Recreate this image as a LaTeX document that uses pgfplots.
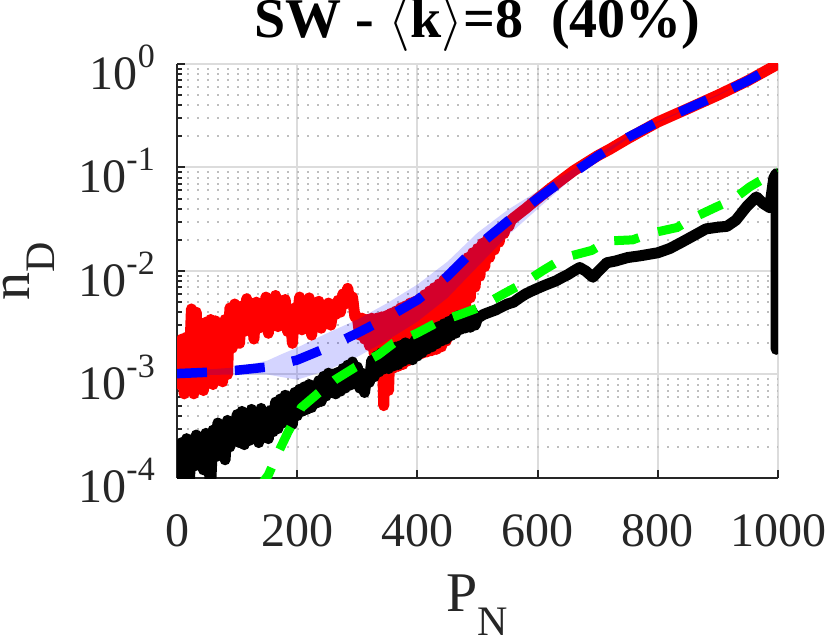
\RequirePackage{fix-cm}
\documentclass[border=0pt]{standalone}
\usepackage{fontspec}
\setmainfont{Liberation Serif}
\usepackage{pgfplots}
\pgfplotsset{compat=1.18}
\definecolor{axisgray}{HTML}{262626}
\definecolor{majgrid}{HTML}{DCDCDC}
\definecolor{mingrid}{HTML}{BEBEBE}
\definecolor{mred}{HTML}{FF0000}
\definecolor{mblue}{HTML}{0000FF}
\definecolor{mgreen}{HTML}{00FF00}
\newcommand{\tsup}[1]{\raisebox{22pt}{\fontsize{34}{34}\selectfont #1}}
\begin{document}
\begin{tikzpicture}
\path[use as bounding box] (0,0) rectangle (830pt,644pt);
\begin{axis}[
  at={(177pt,166pt)}, anchor=south west,
  scale only axis, width=601pt, height=414pt,
  xmin=0, xmax=1000, ymin=1e-4, ymax=1,
  ymode=log,
  axis x line*=bottom, axis y line*=left,
  axis line style={line width=2.5pt, color=axisgray, -},
  xtick={0,200,400,600,800,1000},
  xticklabels={0,200,400,600,800,1000},
  ytick={1e-4,1e-3,1e-2,1e-1,1},
  yticklabels={10\tsup{-4},10\tsup{-3},10\tsup{-2},10\tsup{-1},10\tsup{0}},
  minor ytick={2e-4,3e-4,4e-4,5e-4,6e-4,7e-4,8e-4,9e-4,
               2e-3,3e-3,4e-3,5e-3,6e-3,7e-3,8e-3,9e-3,
               2e-2,3e-2,4e-2,5e-2,6e-2,7e-2,8e-2,9e-2,
               2e-1,3e-1,4e-1,5e-1,6e-1,7e-1,8e-1,9e-1},
  tick align=inside,
  major tick length=8pt, minor tick length=5pt,
  tick style={line width=2pt, color=axisgray},
  xmajorgrids=true, ymajorgrids=true, yminorgrids=true,
  major grid style={line width=2pt, color=majgrid},
  minor grid style={line width=2pt, color=mingrid, dash pattern=on 2pt off 8pt},
  tick label style={font=\fontsize{48}{48}\selectfont, text=axisgray},
  xticklabel style={anchor=base, inner sep=0pt, yshift=-68pt},
  yticklabel style={anchor=east, inner sep=0pt, xshift=-22pt, yshift=-3pt},
  title={\fontsize{56}{56}\selectfont\bfseries SW - $\langle$k$\rangle$=8~~(40\%)},
  title style={at={(axis description cs:0.5,1.0487)}, anchor=base, inner sep=0pt},
  xlabel={\fontsize{56}{56}\selectfont P\raisebox{-24pt}{\fontsize{42}{42}\selectfont N}},
  xlabel style={at={(axis description cs:0.5,-0.322)}, anchor=base, inner sep=0pt, text=axisgray},
  ylabel={\fontsize{56}{56}\selectfont n\raisebox{-25pt}{\fontsize{42}{42}\selectfont D}},
  ylabel style={at={(axis description cs:-0.2462,0.5)}, anchor=base, rotate=0, inner sep=0pt, text=axisgray},
]
% red noisy series
\addplot[mred, line width=11pt, line join=round, line cap=round] coordinates {
(0,2.0e-3)(4,8e-4)(8,2.2e-3)(12,6.5e-4)(16,2.3e-3)(20,1.0e-3)(24,4.3e-3)(28,6.5e-4)
(32,4.0e-3)(36,1.2e-3)(40,3.0e-3)(44,7e-4)(48,3.2e-3)(52,1.4e-3)(56,3.4e-3)(60,8e-4)
(64,3.3e-3)(68,1.0e-3)(72,3.0e-3)(76,8.5e-4)(80,3.4e-3)(84,1.0e-3)(88,4.4e-3)(92,1.8e-3)
(96,4.8e-3)(100,2.2e-3)(104,2.0e-3)(108,4.6e-3)(112,2.6e-3)(116,5.4e-3)(120,3.0e-3)
(124,4.8e-3)(128,2.2e-3)(132,5.0e-3)(136,2.8e-3)(140,4.4e-3)(144,3.2e-3)(148,5.6e-3)
(152,2.5e-3)(156,4.6e-3)(160,3.6e-3)(164,5.8e-3)(168,2.9e-3)(172,4.9e-3)(176,3.3e-3)
(180,5.3e-3)(184,2.6e-3)(188,4.1e-3)(192,2.0e-3)(196,4.4e-3)(200,3.4e-3)(204,5.6e-3)
(208,2.7e-3)(212,4.7e-3)(216,3.1e-3)(220,5.5e-3)(224,2.4e-3)(228,4.3e-3)(232,3.5e-3)
(236,5.1e-3)(240,2.8e-3)(244,4.5e-3)(248,3.6e-3)(252,4.9e-3)(256,3.0e-3)(260,4.4e-3)
(264,3.8e-3)(268,5.2e-3)(272,4.0e-3)(276,6.0e-3)(280,4.8e-3)(284,6.8e-3)(288,5.0e-3)
(292,5.6e-3)(296,3.6e-3)
(300,3.6e-3)(304,2.4e-3)(308,3.5e-3)(312,2.2e-3)(316,3.4e-3)(320,1.9e-3)(324,3.5e-3)
(328,1.6e-3)(332,3.5e-3)(336,1.2e-3)(340,3.6e-3)(344,5.0e-4)(348,3.7e-3)(352,7.0e-4)
(356,3.9e-3)(360,1.15e-3)(364,4.1e-3)(368,1.2e-3)(372,4.4e-3)(376,1.25e-3)(380,4.6e-3)
(384,1.35e-3)(388,4.9e-3)(392,1.45e-3)(396,5.1e-3)(400,1.55e-3)(404,5.4e-3)(408,1.6e-3)
(412,5.9e-3)(416,1.65e-3)(420,6.4e-3)(424,1.7e-3)(428,6.9e-3)(432,1.75e-3)(436,7.5e-3)
(440,1.85e-3)(444,8.2e-3)(448,2.1e-3)(452,9.0e-3)(456,2.4e-3)(460,1.0e-2)(464,2.8e-3)
(468,1.1e-2)(472,3.3e-3)(476,1.2e-2)(480,4.3e-3)(484,1.35e-2)(488,5.5e-3)(492,1.5e-2)
(496,7.0e-3)(500,1.65e-2)(504,8.9e-3)(508,1.85e-2)(512,1.1e-2)(516,2.0e-2)(520,1.35e-2)
(524,2.2e-2)(528,1.6e-2)(532,2.4e-2)(536,1.9e-2)(540,2.6e-2)(544,2.3e-2)(548,2.85e-2)
(552,2.7e-2)(556,3.1e-2)(560,3.25e-2)
(580,4.0e-2)(600,5.0e-2)(620,6.2e-2)(640,7.6e-2)(660,9.3e-2)(680,0.11)(700,0.13)
(720,0.15)(750,0.19)(800,0.275)(850,0.37)(900,0.50)(950,0.69)(1000,1.0)
};
% shaded band
\addplot[draw=none, fill=mblue, fill opacity=0.17] coordinates {
(0,1.07e-3)(100,1.17e-3)(150,1.36e-3)(175,1.58e-3)(200,1.82e-3)(250,2.51e-3)(300,3.39e-3)
(350,4.9e-3)(400,7.4e-3)(450,1.23e-2)(500,2.34e-2)(550,3.89e-2)(600,5.9e-2)(650,8.9e-2)
(700,0.135)(750,0.20)(800,0.279)(900,0.507)(1000,1.0)
(1000,1.0)(900,0.495)(800,0.272)(750,0.19)(700,0.12)(650,7.2e-2)(600,3.98e-2)
(550,2.19e-2)(500,1.1e-2)(450,5.5e-3)(400,3.24e-3)(350,2.14e-3)(300,1.48e-3)
(250,1.1e-3)(200,8.9e-4)(150,1.0e-3)(100,1.0e-3)(0,9.8e-4)
} -- cycle;
% mean (blue dashed)
\addplot[mblue, line width=9.5pt, dash pattern=on 30pt off 28pt] coordinates {
(0,1.02e-3)(50,1.05e-3)(100,1.10e-3)(150,1.18e-3)(200,1.38e-3)(250,1.82e-3)(300,2.51e-3)
(350,3.55e-3)(400,5.25e-3)(450,8.9e-3)(500,1.74e-2)(550,3.02e-2)(600,5.0e-2)(650,8.1e-2)
(700,0.129)(750,0.195)(800,0.275)(850,0.372)(900,0.50)(950,0.69)(1000,1.0)
};
% black noisy series
\addplot[black, line width=11pt, line join=round, line cap=round] coordinates {
(0,1.5e-4)(4,0.8e-4)(8,2.2e-4)(12,1.2e-4)(16,2.4e-4)(20,0.85e-4)(24,2.0e-4)(28,1.3e-4)
(32,2.6e-4)(36,1.4e-4)(40,2.3e-4)(44,1.2e-4)(48,2.7e-4)(52,1.5e-4)(56,0.85e-4)(60,2.9e-4)
(64,1.6e-4)(68,3.4e-4)(72,1.8e-4)(76,3.1e-4)(80,1.5e-4)(84,3.6e-4)(88,2.0e-4)(92,3.3e-4)
(96,2.3e-4)(100,4.1e-4)(104,2.2e-4)(108,4.4e-4)(112,2.1e-4)(116,3.9e-4)(120,2.3e-4)
(124,4.6e-4)(128,2.5e-4)(132,4.3e-4)(136,2.2e-4)(140,4.7e-4)(144,2.6e-4)(148,4.0e-4)
(152,2.4e-4)(156,4.5e-4)(160,2.8e-4)(164,5.4e-4)(168,3.0e-4)(172,5.8e-4)(176,3.4e-4)
(180,6.3e-4)(184,3.6e-4)(188,5.9e-4)(192,3.3e-4)(196,6.7e-4)(200,4.0e-4)(204,7.2e-4)
(208,4.4e-4)(212,7.6e-4)(216,4.6e-4)(220,8.0e-4)(224,4.8e-4)(228,7.4e-4)(232,5.3e-4)
(236,8.7e-4)(240,5.5e-4)(244,9.6e-4)(248,6.2e-4)(252,1.03e-3)(256,6.7e-4)(260,1.01e-3)
(264,6.5e-4)(268,1.05e-3)(272,6.9e-4)(276,1.14e-3)(280,7.4e-4)(284,1.23e-3)(288,7.9e-4)
(292,1.32e-3)(296,8.4e-4)(300,1.18e-3)(304,7.4e-4)(308,1.03e-3)(312,6.7e-4)(316,9.9e-4)
(320,8.4e-4)(324,1.37e-3)(328,9.5e-4)(332,1.51e-3)(336,1.06e-3)(340,1.62e-3)(344,1.13e-3)
(348,1.68e-3)(352,1.14e-3)(356,1.75e-3)(360,1.21e-3)(364,1.84e-3)(368,1.25e-3)(372,1.90e-3)
(376,1.34e-3)(380,2.02e-3)(384,1.41e-3)(388,1.96e-3)(392,1.39e-3)(396,2.13e-3)(400,1.51e-3)
(404,2.24e-3)(408,1.63e-3)(412,2.46e-3)(416,1.76e-3)(420,2.63e-3)(424,1.85e-3)(428,2.8e-3)
(432,1.98e-3)(436,2.91e-3)(440,2.11e-3)(444,3.08e-3)(448,2.2e-3)(452,3.25e-3)(456,2.38e-3)
(460,3.47e-3)(464,2.51e-3)(468,3.7e-3)(472,2.73e-3)(476,3.8e-3)(480,2.82e-3)(484,3.9e-3)
(488,2.86e-3)(492,4.0e-3)(496,3.0e-3)(500,3.5e-3)(510,3.8e-3)(520,4.0e-3)(530,4.2e-3)
(540,4.5e-3)(550,4.8e-3)(560,5.0e-3)(570,5.5e-3)(580,6.0e-3)(590,6.4e-3)(600,6.8e-3)
(610,7.2e-3)(620,7.6e-3)(630,8.0e-3)(640,8.6e-3)(650,9.2e-3)(660,1.0e-2)(670,1.08e-2)
(680,1.0e-2)(692,8.7e-3)(700,9.8e-3)(715,1.2e-2)(730,1.25e-2)(750,1.35e-2)(770,1.40e-2)
(800,1.50e-2)(820,1.65e-2)(840,1.90e-2)(860,2.2e-2)(880,2.55e-2)(900,2.65e-2)(915,2.7e-2)
(930,3.1e-2)(948,4.2e-2)(964,5.2e-2)(975,4.5e-2)(986,4.1e-2)(993,7.9e-2)(997,8.7e-2)
(997,1.75e-3)
};
% green dashed
\addplot[mgreen, line width=9pt, dash pattern=on 25pt off 20pt] coordinates {
(135,7.9e-5)(152,1.07e-4)(168,1.74e-4)(185,2.8e-4)(207,4.8e-4)(235,6.6e-4)(263,8.9e-4)
(296,1.17e-3)(335,1.55e-3)(360,2.0e-3)(399,2.5e-3)(432,3.16e-3)(471,3.8e-3)(504,4.47e-3)
(543,6.0e-3)(576,7.6e-3)(610,1.02e-2)(645,1.35e-2)(690,1.58e-2)(717,1.95e-2)(758,2.0e-2)
(792,2.34e-2)(832,2.63e-2)(858,3.24e-2)(898,4.17e-2)(925,4.9e-2)(953,6.5e-2)(981,8.1e-2)
(1000,9.1e-2)
};
\end{axis}
\end{tikzpicture}
\end{document}
